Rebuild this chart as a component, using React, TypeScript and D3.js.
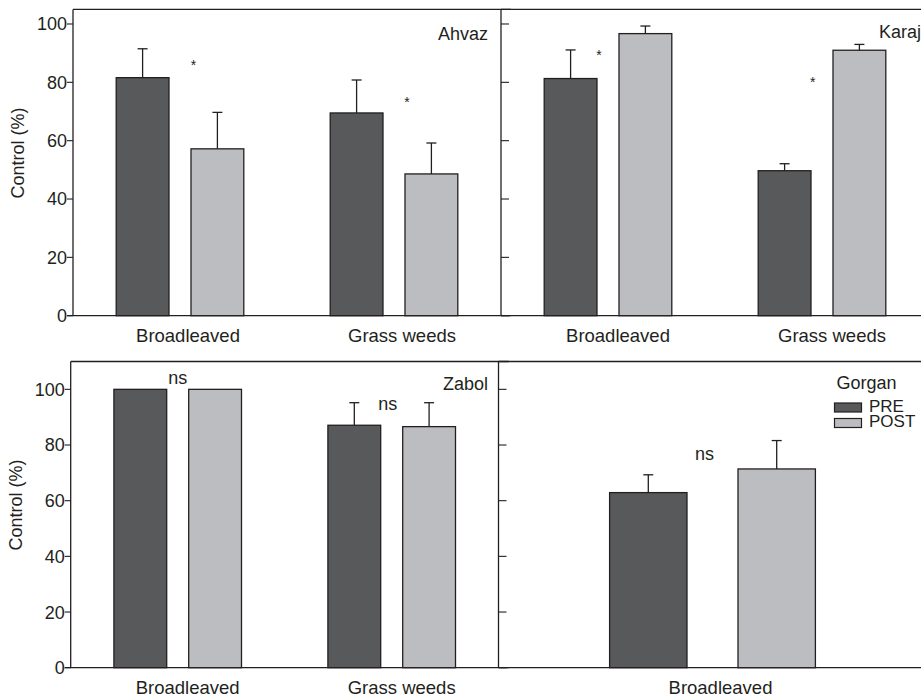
import React from "react";
import * as d3 from "d3";

// Weed control (%) of PRE vs POST herbicide application at four sites
const categories = ["Broadleaved", "Grass weeds"];
const gorganCategories = ["Broadleaved"];
const treatments = ["PRE", "POST"];

const ahvazPre = [81.6, 69.5];
const ahvazPost = [57.2, 48.6];
const ahvazPreErr = [9.9, 11.3];
const ahvazPostErr = [12.5, 10.6];
const ahvazSig = ["*", "*"];
const ahvazSigAt = [86.9, 74.2];

const karajPre = [81.3, 49.7];
const karajPost = [96.7, 91.0];
const karajPreErr = [9.8, 2.4];
const karajPostErr = [2.6, 2.0];
const karajSig = ["*", "*"];
const karajSigAt = [90.3, 81.3];

const zabolPre = [100, 87.1];
const zabolPost = [100, 86.6];
const zabolPreErr = [0, 8.1];
const zabolPostErr = [0, 8.6];
const zabolSig = ["ns", "ns"];
const zabolSigAt = [103.6, 94.4];

const gorganPre = [62.9];
const gorganPost = [71.4];
const gorganPreErr = [6.4];
const gorganPostErr = [10.2];
const gorganSig = ["ns"];
const gorganSigAt = [76.3];

const yTicks = [0, 20, 40, 60, 80, 100];

const W = 921;
const H = 697;
const FONT = "'Liberation Sans', Arial, Helvetica, sans-serif";
const INK = "#231f20";
const PRE_FILL = "#58595b";
const POST_FILL = "#bcbdc0";
const PANEL_W = 428;

type Spec = {
  name: string;
  cats: string[];
  pre: number[];
  post: number[];
  preErr: number[];
  postErr: number[];
  sig: string[];
  sigAt: number[];
};

type Frame = {
  x0: number;
  yTop: number;
  yBottom: number;
  yMax: number;
  left: boolean;
  barW: number;
  gap: number;
  sigDx: number[];
  labelDx: number;
  nameX: number;
  nameY: number;
  nameAnchor: "start" | "end";
  legend?: boolean;
};

const specs: Spec[] = [
  { name: "Ahvaz", cats: categories, pre: ahvazPre, post: ahvazPost, preErr: ahvazPreErr, postErr: ahvazPostErr, sig: ahvazSig, sigAt: ahvazSigAt },
  { name: "Karaj", cats: categories, pre: karajPre, post: karajPost, preErr: karajPreErr, postErr: karajPostErr, sig: karajSig, sigAt: karajSigAt },
  { name: "Zabol", cats: categories, pre: zabolPre, post: zabolPost, preErr: zabolPreErr, postErr: zabolPostErr, sig: zabolSig, sigAt: zabolSigAt },
  { name: "Gorgan", cats: gorganCategories, pre: gorganPre, post: gorganPost, preErr: gorganPreErr, postErr: gorganPostErr, sig: gorganSig, sigAt: gorganSigAt },
];

const frames: Frame[] = [
  { x0: 73, yTop: 9.4, yBottom: 315.7, yMax: 105, left: true, barW: 52.8, gap: 22, sigDx: [13.5, 13], labelDx: 8, nameX: 488, nameY: 40, nameAnchor: "end" },
  { x0: 501, yTop: 9.4, yBottom: 315.7, yMax: 105, left: false, barW: 52.8, gap: 22, sigDx: [-9, -9.3], labelDx: 10, nameX: 879, nameY: 38, nameAnchor: "start" },
  { x0: 70.7, yTop: 361.5, yBottom: 667.7, yMax: 110, left: true, barW: 52.8, gap: 22, sigDx: [0, -4], labelDx: 10, nameX: 488, nameY: 390, nameAnchor: "end" },
  { x0: 498.5, yTop: 361.5, yBottom: 667.7, yMax: 110, left: false, barW: 77.4, gap: 51, sigDx: [-8], labelDx: 8, nameX: 836.5, nameY: 388.5, nameAnchor: "start", legend: true },
];

function Panel({ spec, f }: { spec: Spec; f: Frame }) {
  const y = d3.scaleLinear().domain([0, f.yMax]).range([f.yBottom, f.yTop]);
  const xOuter = d3.scaleBand<string>().domain(spec.cats).range([f.x0, f.x0 + PANEL_W]);
  const fill = d3.scaleOrdinal<string, string>().domain(treatments).range([PRE_FILL, POST_FILL]);
  const right = Math.min(W, f.x0 + PANEL_W + 10);

  return (
    <g>
      {/* frame: top edge, left axis, baseline */}
      <line x1={f.x0} x2={right} y1={f.yTop} y2={f.yTop} stroke={INK} strokeWidth={1.3} />
      <line x1={f.x0} x2={f.x0} y1={f.yTop} y2={f.yBottom} stroke={INK} strokeWidth={1.3} />
      <line x1={f.left ? f.x0 - 6 : f.x0} x2={right} y1={f.yBottom} y2={f.yBottom} stroke={INK} strokeWidth={1.3} />

      {yTicks.map((t) => (
        <g key={t}>
          <line
            x1={f.left ? f.x0 - 6 : f.x0}
            x2={f.left ? f.x0 : f.x0 + 8}
            y1={y(t)}
            y2={y(t)}
            stroke={INK}
            strokeWidth={1.1}
          />
          {f.left && (
            <text x={f.x0 - 6} y={y(t)} dy="0.36em" textAnchor="end" fontSize={18} fill={INK}>
              {t}
            </text>
          )}
        </g>
      ))}

      {f.left && (
        <text
          transform={`translate(${f.x0 - 49},${(f.yTop + f.yBottom) / 2 - 9.5}) rotate(-90)`}
          textAnchor="middle"
          fontSize={18}
          fill={INK}
        >
          Control (%)
        </text>
      )}

      {spec.cats.map((c, i) => {
        const center = (xOuter(c) ?? 0) + xOuter.bandwidth() / 2;
        const half = (2 * f.barW + f.gap) / 2;
        const xInner = d3
          .scaleBand<string>()
          .domain(treatments)
          .range([center - half, center + half])
          .paddingInner(f.gap / (f.barW + f.gap))
          .paddingOuter(0);
        const vals = [spec.pre[i], spec.post[i]];
        const errs = [spec.preErr[i], spec.postErr[i]];
        return (
          <g key={c}>
            {treatments.map((t, k) => {
              const bx = xInner(t) ?? 0;
              const bw = xInner.bandwidth();
              const cx = bx + bw / 2;
              return (
                <g key={t}>
                  {errs[k] > 0 && (
                    <g stroke={INK} strokeWidth={1.3}>
                      <line x1={cx} x2={cx} y1={y(vals[k])} y2={y(vals[k] + errs[k])} />
                      <line x1={cx - 5} x2={cx + 5} y1={y(vals[k] + errs[k])} y2={y(vals[k] + errs[k])} />
                    </g>
                  )}
                  <rect
                    x={bx}
                    y={y(vals[k])}
                    width={bw}
                    height={y(0) - y(vals[k])}
                    fill={fill(t)}
                    stroke={INK}
                    strokeWidth={1.3}
                  />
                </g>
              );
            })}
            {spec.sig[i] === "*" ? (
              <text x={center + f.sigDx[i]} y={y(spec.sigAt[i]) + 8} textAnchor="middle" fontSize={14} fill={INK}>
                *
              </text>
            ) : (
              <text x={center + f.sigDx[i]} y={y(spec.sigAt[i]) + 5} textAnchor="middle" fontSize={18} fill={INK}>
                {spec.sig[i]}
              </text>
            )}
            <text x={center + f.labelDx} y={f.yBottom + 26} textAnchor="middle" fontSize={18.5} fill={INK}>
              {c}
            </text>
          </g>
        );
      })}

      <text x={f.nameX} y={f.nameY} textAnchor={f.nameAnchor} fontSize={18} fill={INK}>
        {spec.name}
      </text>

      {f.legend &&
        treatments.map((t, k) => (
          <g key={t}>
            <rect x={834.5} y={403 + k * 15.5} width={27} height={9} fill={fill(t)} stroke={INK} strokeWidth={1.2} />
            <text x={869} y={411.5 + k * 15.5} fontSize={17} fill={INK}>
              {t}
            </text>
          </g>
        ))}
    </g>
  );
}

export default function App() {
  return (
    <svg
      width={W}
      height={H}
      viewBox={`0 0 ${W} ${H}`}
      style={{ position: "absolute", left: 0, top: 0, background: "#fff", fontFamily: FONT }}
    >
      <rect width={W} height={H} fill="#fff" />
      {specs.map((s, i) => (
        <Panel key={s.name} spec={s} f={frames[i]} />
      ))}
    </svg>
  );
}
